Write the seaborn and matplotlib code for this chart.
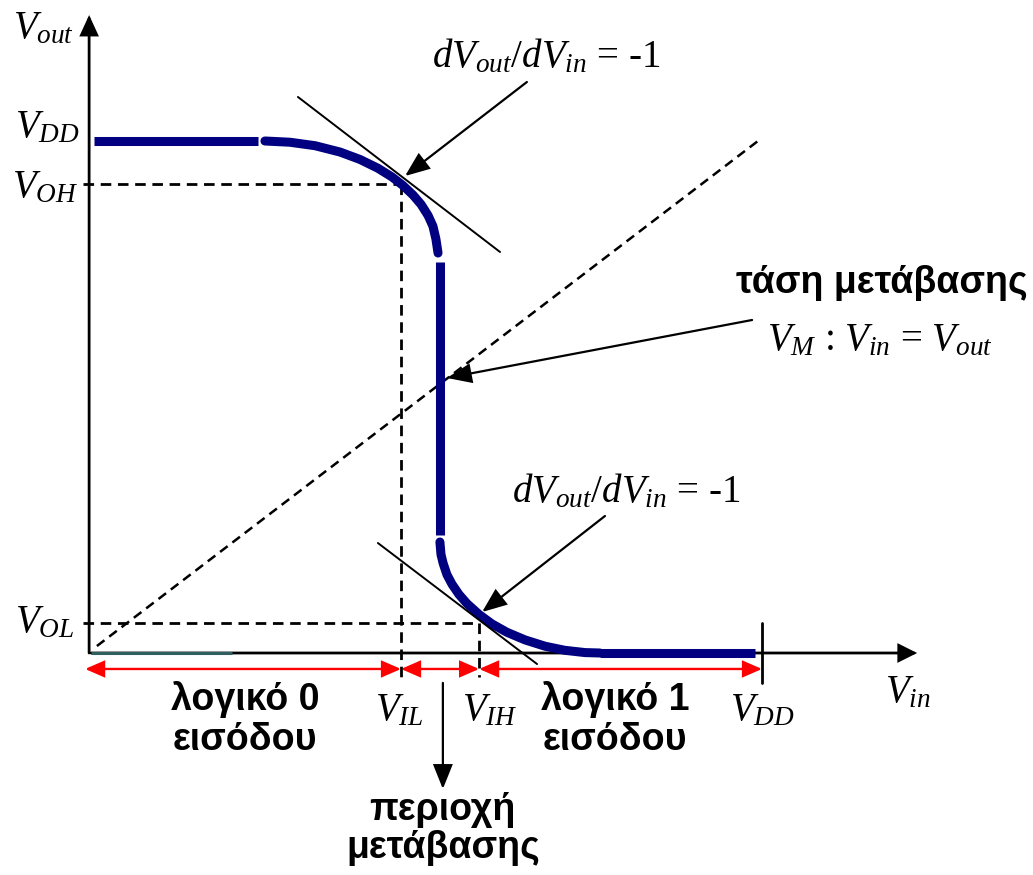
import numpy as np
import matplotlib
matplotlib.use("Agg")
import matplotlib.pyplot as plt
import seaborn as sns
from matplotlib.patches import FancyArrowPatch

# ---------------- data (volts) ----------------
VDD = 2.5
VOH = 2.29
VOL = 0.146
VIL = 1.155
VIH = 1.446
VM = 1.30

# VTC curve pieces
flat_hi_x = [0.01, 0.622]
flat_hi_y = [VDD, VDD]
bend_hi_x = [0.648, 0.741, 0.835, 0.928, 1.002, 1.069, 1.122, 1.162, 1.200, 1.230,
             1.256, 1.274, 1.285, 1.293]
bend_hi_y = [2.500, 2.494, 2.477, 2.446, 2.410, 2.367, 2.324, 2.283, 2.236, 2.190,
             2.136, 2.084, 2.022, 1.953]
vert_x = [VM, VM]
vert_y = [1.909, 0.576]
bend_lo_x = [1.300, 1.304, 1.312, 1.326, 1.345, 1.371, 1.401, 1.446, 1.494, 1.550,
             1.617, 1.692, 1.766, 1.841, 1.896]
bend_lo_y = [0.542, 0.481, 0.438, 0.383, 0.336, 0.286, 0.241, 0.188, 0.142, 0.101,
             0.064, 0.033, 0.013, 0.002, 0.000]
flat_lo_x = [1.896, 2.474]
flat_lo_y = [0.0, 0.0]

# tangent lines (slope -1)
tan_hi_x = [0.771, 1.524]
tan_hi_y = [2.715, 1.958]
tan_lo_x = [1.069, 1.662]
tan_lo_y = [0.537, -0.054]

# Vin = Vout reference line
diag_x = [0.022, 2.5]
diag_y = [0.034, 2.515]

# ---------------- style ----------------
sns.set_theme(style="white")
plt.rcParams["font.family"] = ["Liberation Sans", "DejaVu Sans"]
plt.rcParams["text.color"] = "black"
plt.rcParams["mathtext.fontset"] = "custom"
plt.rcParams["mathtext.rm"] = "Liberation Serif"
plt.rcParams["mathtext.it"] = "Liberation Serif:italic"
plt.rcParams["mathtext.bf"] = "Liberation Serif:bold"

NAVY = "#000080"
RED = "#ff0000"
TEAL = "#2f5f5f"

SX = 268.4  # px per volt (x)
SY = 204.8  # px per volt (y)
X0, Y0 = 91, 653

fig = plt.figure(figsize=(10.33, 8.75), dpi=100)
ax = fig.add_axes([0, 0, 1, 1])
ax.set_xlim(-X0 / SX, (1033 - X0) / SX)
ax.set_ylim((Y0 - 875) / SY, Y0 / SY)
ax.axis("off")

def arrow(p0, p1, color="black", lw=1.5, style="-|>", hl=14, hw=5, z=5):
    a = FancyArrowPatch(p0, p1, arrowstyle=f"{style},head_length={hl},head_width={hw}",
                        mutation_scale=1, color=color, lw=lw, shrinkA=0, shrinkB=0,
                        zorder=z, joinstyle="miter")
    ax.add_patch(a)

# axes arrows
arrow((-0.007, 0.0), (-0.007, 3.115), lw=2.0, hl=12, hw=5.5, z=3)
arrow((0.0, 0.0), (3.078, 0.0), lw=2.0, hl=11, hw=5.5, z=3)
ax.plot([0.0, 0.525], [0, 0], color=TEAL, lw=2.2, zorder=3.5, solid_capstyle="butt")
# VDD tick on x axis
ax.plot([VDD, VDD], [0.146, -0.146], color="black", lw=2.0, zorder=3)

# dashed guide lines
dash = (0, (3.8, 2.4))
sns.lineplot(x=[-0.03, VIL], y=[VOH, VOH], color="black", lw=2.0, linestyle=dash, ax=ax, zorder=2)
sns.lineplot(x=[VIL, VIL], y=[VOH, -0.117], color="black", lw=2.0, linestyle=dash, ax=ax, zorder=2,
             sort=False, estimator=None)
sns.lineplot(x=[-0.03, VIH], y=[VOL, VOL], color="black", lw=2.0, linestyle=dash, ax=ax, zorder=2)
sns.lineplot(x=[VIH, VIH], y=[VOL, -0.117], color="black", lw=2.0, linestyle=dash, ax=ax, zorder=2,
             sort=False, estimator=None)
sns.lineplot(x=diag_x, y=diag_y, color="black", lw=1.8, linestyle=dash, ax=ax, zorder=2)

# tangents
sns.lineplot(x=tan_hi_x, y=tan_hi_y, color="black", lw=1.4, ax=ax, zorder=6)
sns.lineplot(x=tan_lo_x, y=tan_lo_y, color="black", lw=1.4, ax=ax, zorder=6)

# VTC curve
kw = dict(color=NAVY, lw=6.5, ax=ax, sort=False, estimator=None, zorder=4,
          solid_joinstyle="round")
sns.lineplot(x=flat_hi_x, y=flat_hi_y, solid_capstyle="butt", **kw)
sns.lineplot(x=bend_hi_x, y=bend_hi_y, solid_capstyle="round", **kw)
sns.lineplot(x=vert_x, y=vert_y, solid_capstyle="butt", **kw)
sns.lineplot(x=bend_lo_x, y=bend_lo_y, solid_capstyle="round", **kw)
sns.lineplot(x=flat_lo_x, y=flat_lo_y, solid_capstyle="butt", **kw)

# red range arrows
yr = -0.078
arrow((-0.022, yr), (VIL, yr), color=RED, lw=1.7, style="<|-|>", hl=11.5, hw=5, z=5)
arrow((VIL, yr), (VIH, yr), color=RED, lw=1.7, style="<|-|>", hl=11.5, hw=5, z=5)
arrow((VIH, yr), (VDD, yr), color=RED, lw=1.7, style="<|-|>", hl=11.5, hw=5, z=5)

# annotation arrows
arrow((1.624, 2.788), (1.170, 2.329), lw=1.6, hl=15, hw=6, z=7)
arrow((2.463, 1.626), (1.326, 1.343), lw=1.6, hl=15, hw=6, z=7)
arrow((1.915, 0.669), (1.457, 0.200), lw=1.6, hl=15, hw=6, z=7)
arrow((1.311, -0.146), (1.311, -0.664), lw=1.6, hl=15, hw=6, z=7)

# ---------------- text ----------------
FS = 28
serif = dict(fontsize=FS, family="Liberation Serif", va="baseline", color="black")
ax.text(-0.291, 3.003, r"$V_{out}$", ha="left", **serif)
ax.text(-0.041, 2.520, r"$V_{DD}$", ha="right", **serif)
ax.text(-0.048, 2.227, r"$V_{OH}$", ha="right", **serif)
ax.text(-0.063, 0.103, r"$V_{OL}$", ha="right", **serif)
ax.text(1.058, -0.327, r"$V_{IL}$", ha="left", **serif)
ax.text(1.382, -0.327, r"$V_{IH}$", ha="left", **serif)
ax.text(2.381, -0.327, r"$V_{DD}$", ha="left", **serif)
ax.text(2.958, -0.239, r"$V_{in}$", ha="left", **serif)
ax.text(1.272, 2.861, r"$dV_{out}$/$dV_{in}$ = -1", ha="left", **serif)
ax.text(1.569, 0.737, r"$dV_{out}$/$dV_{in}$ = -1", ha="left", **serif)
ax.text(3.361, 1.479, r"$V_M$ : $V_{in}$ = $V_{out}$", ha="right", **serif)

BS = 27
bold = dict(fontsize=BS, family=["Liberation Sans", "DejaVu Sans"], weight="bold",
            va="baseline", color="black")
ax.text(3.491, 1.758, "τάση μετάβασης", ha="right", **bold)
ax.text(0.574, -0.278, "λογικό 0", ha="center", **bold)
ax.text(0.574, -0.474, "εισόδου", ha="center", **bold)
ax.text(1.952, -0.278, "λογικό 1", ha="center", **bold)
ax.text(1.952, -0.474, "εισόδου", ha="center", **bold)
ax.text(1.311, -0.815, "περιοχή", ha="center", **bold)
ax.text(1.311, -1.001, "μετάβασης", ha="center", **bold)

fig.savefig("out.png", dpi=100)
